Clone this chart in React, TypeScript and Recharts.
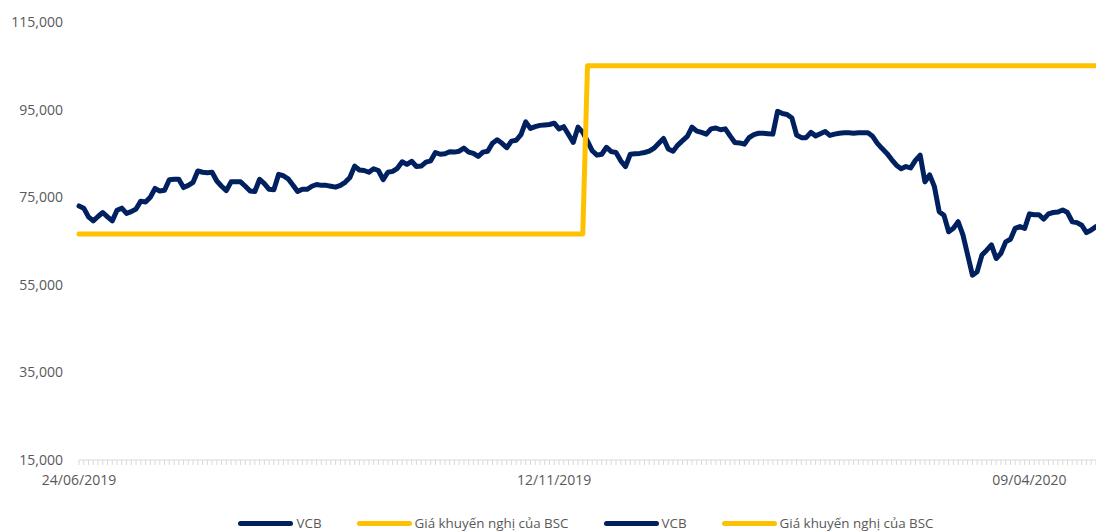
import React from 'react';
import { LineChart, Line, XAxis, YAxis, Legend } from 'recharts';

// VCB closing price (VND), one value per trading day from 24/06/2019
const vcbPrice: number[] = [
  73000, 72500, 70500, 69600, 70600, 71500, 70500, 69600, 72000, 72500,
  71300, 71700, 72300, 74100, 73900, 75000, 77000, 76400, 76600, 79000,
  79100, 79100, 77200, 77700, 78400, 81000, 80700, 80600, 80700, 78700,
  77500, 76500, 78500, 78500, 78500, 77500, 76400, 76300, 79100, 78100,
  76800, 76700, 80200, 79900, 79200, 77800, 76300, 76800, 76800, 77500,
  77900, 77700, 77700, 77500, 77300, 77700, 78400, 79500, 82100, 81200,
  81100, 80700, 81500, 81100, 79000, 80700, 80900, 81600, 83100, 82500,
  83200, 82000, 82100, 83000, 83300, 85200, 84800, 84900, 85400, 85300,
  85500, 86200, 85300, 85000, 84300, 85300, 85500, 87300, 88100, 87300,
  86300, 87800, 88000, 89300, 92200, 90700, 91100, 91400, 91500, 91600,
  91900, 90600, 91100, 89300, 87500, 91000, 89800, 87800, 85600, 84600,
  84800, 86400, 85400, 85200, 83300, 82000, 84800, 84900, 85000, 85200,
  85500, 86200, 87300, 88400, 86000, 85500, 86900, 87900, 88900, 91000,
  90100, 89800, 89400, 90600, 90800, 90400, 90600, 89000, 87500, 87400,
  87100, 88600, 89300, 89600, 89600, 89500, 89400, 94600, 94100, 93900,
  93100, 89200, 88600, 88600, 89800, 89000, 89500, 90000, 89100, 89400,
  89600, 89700, 89700, 89600, 89700, 89700, 89700, 88900, 87300, 86100,
  85000, 83600, 82300, 81500, 82000, 81700, 83400, 84600, 78500, 80100,
  77400, 71700, 70900, 67100, 67900, 69400, 66400, 61800, 57200, 58000,
  61800, 62900, 64100, 61000, 62200, 64800, 65400, 67900, 68300, 67900,
  71200, 71000, 71000, 70000, 71200, 71500, 71600, 72100, 71500, 69400,
  69200, 68600, 66900, 67500, 68300,
];

// BSC recommended price (VND), same trading days
const bscTarget: number[] = [
  66600, 66600, 66600, 66600, 66600, 66600, 66600, 66600, 66600, 66600,
  66600, 66600, 66600, 66600, 66600, 66600, 66600, 66600, 66600, 66600,
  66600, 66600, 66600, 66600, 66600, 66600, 66600, 66600, 66600, 66600,
  66600, 66600, 66600, 66600, 66600, 66600, 66600, 66600, 66600, 66600,
  66600, 66600, 66600, 66600, 66600, 66600, 66600, 66600, 66600, 66600,
  66600, 66600, 66600, 66600, 66600, 66600, 66600, 66600, 66600, 66600,
  66600, 66600, 66600, 66600, 66600, 66600, 66600, 66600, 66600, 66600,
  66600, 66600, 66600, 66600, 66600, 66600, 66600, 66600, 66600, 66600,
  66600, 66600, 66600, 66600, 66600, 66600, 66600, 66600, 66600, 66600,
  66600, 66600, 66600, 66600, 66600, 66600, 66600, 66600, 66600, 66600,
  66600, 66600, 66600, 66600, 66600, 66600, 66600, 105000, 105000, 105000,
  105000, 105000, 105000, 105000, 105000, 105000, 105000, 105000, 105000, 105000,
  105000, 105000, 105000, 105000, 105000, 105000, 105000, 105000, 105000, 105000,
  105000, 105000, 105000, 105000, 105000, 105000, 105000, 105000, 105000, 105000,
  105000, 105000, 105000, 105000, 105000, 105000, 105000, 105000, 105000, 105000,
  105000, 105000, 105000, 105000, 105000, 105000, 105000, 105000, 105000, 105000,
  105000, 105000, 105000, 105000, 105000, 105000, 105000, 105000, 105000, 105000,
  105000, 105000, 105000, 105000, 105000, 105000, 105000, 105000, 105000, 105000,
  105000, 105000, 105000, 105000, 105000, 105000, 105000, 105000, 105000, 105000,
  105000, 105000, 105000, 105000, 105000, 105000, 105000, 105000, 105000, 105000,
  105000, 105000, 105000, 105000, 105000, 105000, 105000, 105000, 105000, 105000,
  105000, 105000, 105000, 105000, 105000,
];

const xTickIndices: number[] = [0, 100, 200];
const xTickLabels: string[] = ['24/06/2019', '12/11/2019', '09/04/2020'];
const yTicks: number[] = [15000, 35000, 55000, 75000, 95000, 115000];
const legendNames: string[] = ['VCB', 'Giá khuyến nghị của BSC', 'VCB', 'Giá khuyến nghị của BSC'];

const NAVY = '#002060';
const GOLD = '#FFC000';
const TEXT = '#595959';
const FONT = '"Open Sans", "Noto Sans", sans-serif';
const legendColors = [NAVY, GOLD, NAVY, GOLD];

const data = vcbPrice.map((v, i) => ({ idx: i, vcb: v, bsc: bscTarget[i] }));

const labelFor = (i: number) => {
  const k = xTickIndices.indexOf(Number(i));
  return k >= 0 ? xTickLabels[k] : '';
};

const LegendContent = () => (
  <div
    style={{
      display: 'flex',
      justifyContent: 'center',
      alignItems: 'center',
      height: 18,
      fontFamily: FONT,
      fontSize: 13.4,
      color: TEXT,
      whiteSpace: 'nowrap',
    }}
  >
    {legendNames.map((name, k) => (
      <div key={k} style={{ display: 'flex', alignItems: 'center', marginLeft: k === 0 ? 0 : 35 }}>
        <span
          style={{
            display: 'inline-block',
            width: 55,
            height: 5,
            borderRadius: 3,
            background: legendColors[k],
            marginRight: 3,
          }}
        />
        <span style={{ lineHeight: '18px' }}>{name}</span>
      </div>
    ))}
  </div>
);

export default function App() {
  return (
    <div style={{ position: 'absolute', left: 0, top: 0, width: 1096, height: 532, overflow: 'hidden', background: '#fff' }}>
      <LineChart width={1096} height={532} data={data} margin={{ top: 22, right: 0, bottom: 0, left: 0 }}>
        <XAxis
          dataKey="idx"
          interval={0}
          tickFormatter={labelFor}
          axisLine={{ stroke: '#d9d9d9', strokeWidth: 1 }}
          tickLine={{ stroke: '#d9d9d9', strokeWidth: 1 }}
          tickSize={5}
          tickMargin={10}
          height={54}
          tick={{ fill: TEXT, fontSize: 14, fontFamily: FONT }}
        />
        <YAxis
          domain={[15000, 115000]}
          ticks={yTicks}
          allowDataOverflow
          tickFormatter={(v: number) => v.toLocaleString('en-US')}
          axisLine={false}
          tickLine={false}
          tickSize={6}
          tickMargin={10}
          width={79}
          tick={{ fill: TEXT, fontSize: 14, fontFamily: FONT }}
        />
        <Legend
          verticalAlign="bottom"
          content={<LegendContent />}
          wrapperStyle={{ left: 76, width: 1020, bottom: 0, height: 18 }}
        />
        <Line
          type="linear"
          dataKey="vcb"
          name="VCB"
          stroke={NAVY}
          strokeWidth={5}
          strokeLinejoin="round"
          strokeLinecap="round"
          dot={false}
          activeDot={false}
          isAnimationActive={false}
        />
        <Line
          type="linear"
          dataKey="bsc"
          name="Giá khuyến nghị của BSC"
          stroke={GOLD}
          strokeWidth={5}
          strokeLinejoin="round"
          strokeLinecap="round"
          dot={false}
          activeDot={false}
          isAnimationActive={false}
        />
      </LineChart>
    </div>
  );
}
